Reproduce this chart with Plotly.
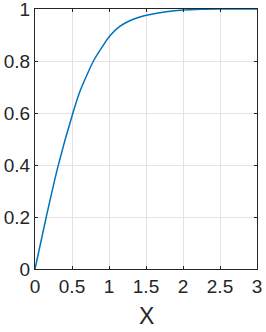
import plotly.graph_objects as go

x_vals = [0, 0.152, 0.309, 0.512, 0.603, 0.70, 0.79, 0.91, 1.01, 1.145, 1.28, 1.416, 1.54, 1.77, 2.0, 2.25, 2.5, 3.0]
y_vals = [0, 0.2, 0.393, 0.6, 0.68, 0.745, 0.80, 0.855, 0.896, 0.933, 0.955, 0.969, 0.978, 0.989, 0.996, 0.999, 1.0, 1.0]

x_ticks = [0, 0.5, 1, 1.5, 2, 2.5, 3]
x_tick_text = ["0", "0.5", "1", "1.5", "2", "2.5", "3"]
y_ticks = [0, 0.2, 0.4, 0.6, 0.8, 1]
y_tick_text = ["0", "0.2", "0.4", "0.6", "0.8", "1"]
x_title = "X"

FONT = "Liberation Sans, Arial, sans-serif"

fig = go.Figure()
fig.add_trace(go.Scatter(x=x_vals, y=y_vals, mode="lines",
                         line=dict(color="#0072BD", width=1.5, shape="spline", smoothing=0.8),
                         cliponaxis=False, showlegend=False))

axis_common = dict(showline=True, linecolor="#262626", linewidth=1, mirror="ticks",
                   ticks="inside", ticklen=3, tickcolor="#262626",
                   showgrid=True, gridcolor="#e3e3e3", gridwidth=1, zeroline=False,
                   automargin=False, ticklabeloverflow="allow",
                   tickfont=dict(family=FONT, size=19, color="#262626"))

fig.update_layout(
    width=266, height=332,
    margin=dict(l=35, r=9, t=9, b=63, autoexpand=False),
    paper_bgcolor="white", plot_bgcolor="white",
    xaxis=dict(range=[0, 3], tickvals=x_ticks, ticktext=x_tick_text, **axis_common),
    yaxis=dict(range=[0, 1], tickvals=y_ticks, ticktext=y_tick_text, **axis_common),
    annotations=[dict(text=x_title, xref="paper", yref="paper", x=0.5, y=0,
                      yshift=-32, xanchor="center", yanchor="top", showarrow=False,
                      font=dict(family=FONT, size=23, color="#262626"))],
)

fig.write_html("out.html", config={"displayModeBar": False},
               post_script="document.body.style.margin='0';document.body.style.overflow='hidden';")
